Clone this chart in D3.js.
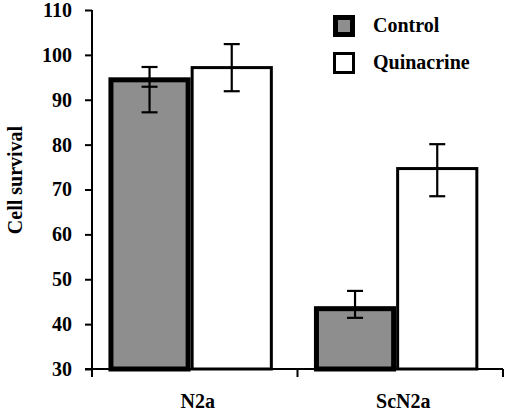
<!DOCTYPE html>
<html>
<head>
<meta charset="utf-8">
<script src="https://cdn.jsdelivr.net/npm/d3@7"></script>
<style>
  html, body { margin: 0; padding: 0; background: #fff; }
  svg { display: block; }
</style>
</head>
<body>
<script>
// ---- data ----
const categories = ["N2a", "ScN2a"];
const seriesNames = ["Control", "Quinacrine"];
const controlValues = [95, 44];
const quinacrineValues = [97.5, 75];
const controlErrLow = [87.2, 41.4];
const controlErrHigh = [97.3, 47.4];
const controlErrMid = [92.9, null];
const quinacrineErrLow = [91.9, 68.5];
const quinacrineErrHigh = [102.4, 80.1];
const yTicks = [30, 40, 50, 60, 70, 80, 90, 100, 110];
const yTitle = "Cell survival";

const FONT = "Liberation Serif, Times New Roman, Times, DejaVu Serif, serif";
const W = 506, H = 412;
const svg = d3.select("body").append("svg").attr("width", W).attr("height", H);

const y = d3.scaleLinear().domain([30, 110]).range([369, 10]);
const x0 = d3.scaleBand().domain(categories).range([92, 503]).paddingInner(0).paddingOuter(0);
const x1 = d3.scaleBand().domain(seriesNames).range([0, x0.bandwidth()]).paddingInner(0).paddingOuter(0.25).align(0.4);

const fills = { Control: "#8e8e8e", Quinacrine: "#ffffff" };
const strokeW = { Control: 5, Quinacrine: 3 };

const rows = [];
categories.forEach((c, i) => {
  rows.push({ cat: c, s: "Control", v: controlValues[i], lo: controlErrLow[i], hi: controlErrHigh[i], mid: controlErrMid[i] });
  rows.push({ cat: c, s: "Quinacrine", v: quinacrineValues[i], lo: quinacrineErrLow[i], hi: quinacrineErrHigh[i], mid: null });
});

function styleText(sel) {
  return sel.style("font-family", FONT).style("font-weight", "bold").style("font-size", "20px").style("fill", "#000");
}

// bars
const bars = svg.append("g");
bars.selectAll("rect").data(rows).join("rect")
  .attr("x", d => x0(d.cat) + x1(d.s) + strokeW[d.s] / 2)
  .attr("width", d => x1.bandwidth() - strokeW[d.s])
  .attr("y", d => y(d.v) + strokeW[d.s] / 2)
  .attr("height", d => y(30) - y(d.v) - strokeW[d.s] / 2)
  .attr("fill", d => fills[d.s])
  .attr("stroke", "#000")
  .attr("stroke-width", d => strokeW[d.s]);

// error bars
const eb = svg.append("g").attr("stroke", "#000").attr("stroke-width", 2.2);
const cx = d => x0(d.cat) + x1(d.s) + x1.bandwidth() / 2;
const capHalf = 8;
rows.forEach(d => {
  const c = cx(d);
  eb.append("line").attr("x1", c).attr("x2", c).attr("y1", y(d.lo)).attr("y2", y(d.hi));
  [d.lo, d.hi, d.mid].forEach(v => {
    if (v == null) return;
    eb.append("line").attr("x1", c - capHalf).attr("x2", c + capHalf).attr("y1", y(v)).attr("y2", y(v));
  });
});

// y axis
const yAxis = svg.append("g").attr("transform", "translate(92,0)")
  .call(d3.axisLeft(y).tickValues(yTicks).tickSize(7).tickPadding(13).tickFormat(d3.format("d")));
yAxis.attr("font-family", null).attr("font-size", null);
yAxis.select(".domain").attr("stroke", "#000").attr("stroke-width", 2).attr("d", `M0,${y(110)}V${y(30)}`);
yAxis.selectAll(".tick line").attr("stroke", "#000").attr("stroke-width", 2);
styleText(yAxis.selectAll(".tick text"));

// x axis
const xTickPos = [x0.range()[0]].concat(categories.map(c => x0(c) + x0.bandwidth()));
const xAxisG = svg.append("g");
xAxisG.append("line").attr("x1", x0.range()[0] - 7).attr("x2", x0.range()[1]).attr("y1", y(30)).attr("y2", y(30))
  .attr("stroke", "#000").attr("stroke-width", 2);
xAxisG.selectAll("line.t").data(xTickPos).join("line").attr("class", "t")
  .attr("x1", d => d).attr("x2", d => d).attr("y1", y(30)).attr("y2", y(30) + 8)
  .attr("stroke", "#000").attr("stroke-width", 2);
styleText(xAxisG.selectAll("text").data(categories).join("text")
  .attr("x", d => x0(d) + x0.bandwidth() / 2 + 3)
  .attr("y", 408)
  .attr("text-anchor", "middle")
  .text(d => d));

// y title
styleText(svg.append("text")
  .attr("transform", "translate(22,180) rotate(-90)")
  .attr("text-anchor", "middle")
  .text(yTitle));

// legend
const leg = svg.append("g");
seriesNames.forEach((s, i) => {
  const top = 15 + i * 37;
  const sw = s === "Control" ? 5 : 3;
  leg.append("rect")
    .attr("x", 333 + sw / 2).attr("y", top + sw / 2)
    .attr("width", 22 - sw).attr("height", 22 - sw)
    .attr("fill", fills[s]).attr("stroke", "#000").attr("stroke-width", sw);
  styleText(leg.append("text").attr("x", 373).attr("y", top + 17).text(s));
});
</script>
</body>
</html>
